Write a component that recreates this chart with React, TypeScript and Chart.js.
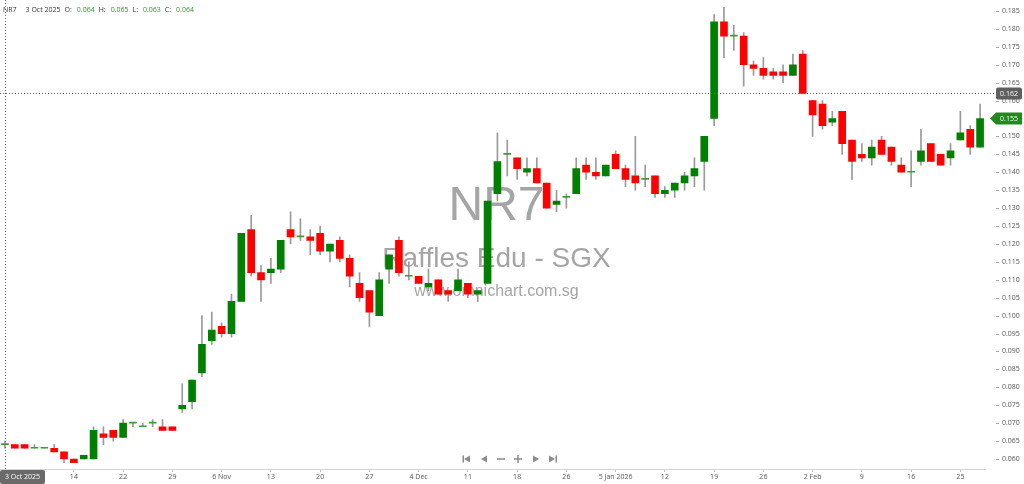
import React, { useEffect, useRef } from 'react';
import { Chart, registerables } from 'chart.js';

Chart.register(...registerables);

// trading days per month (Oct 2025 - Feb 2026)
const octDays = [3, 6, 7, 8, 9, 10, 13, 14, 15, 16, 17, 21, 22, 23, 24, 27, 28, 29, 30, 31];
const novDays = [3, 4, 6, 7, 10, 11, 12, 13, 14, 17, 18, 19, 20, 21, 24, 25, 26, 27, 28];
const decDays = [1, 2, 3, 4, 5, 8, 9, 10, 11, 12, 15, 16, 17, 18, 19, 22, 23, 24, 26, 29, 30, 31];
const janDays = [2, 5, 6, 7, 8, 9, 12, 13, 14, 15, 16, 19, 20, 21, 22, 23, 26, 27, 28, 29, 30];
const febDays = [2, 3, 4, 5, 6, 9, 10, 11, 12, 13, 16, 19, 20, 23, 24, 25, 26, 27];

const dates = [
  ...octDays.map((d) => `${d} Oct 2025`),
  ...novDays.map((d) => `${d} Nov 2025`),
  ...decDays.map((d) => `${d} Dec 2025`),
  ...janDays.map((d) => `${d} Jan 2026`),
  ...febDays.map((d) => `${d} Feb 2026`),
];

const opens = [
  0.064, 0.064, 0.064, 0.063, 0.063, 0.063, 0.062, 0.060, 0.060, 0.060,
  0.067, 0.068, 0.066, 0.070, 0.069, 0.070, 0.069, 0.069, 0.074, 0.076,
  0.084, 0.093, 0.097, 0.095, 0.104, 0.124, 0.112, 0.112, 0.113, 0.124,
  0.122, 0.122, 0.123, 0.118, 0.121, 0.116, 0.109, 0.107, 0.100, 0.113,
  0.121, 0.111, 0.111, 0.108, 0.110, 0.107, 0.107, 0.109, 0.106, 0.109,
  0.134, 0.145, 0.144, 0.140, 0.141, 0.137, 0.131, 0.133, 0.134, 0.142,
  0.140, 0.139, 0.145, 0.141, 0.139, 0.138, 0.139, 0.134, 0.135, 0.137,
  0.139, 0.143, 0.155, 0.182, 0.178, 0.178, 0.170, 0.169, 0.168, 0.168,
  0.167, 0.173, 0.160, 0.159, 0.154, 0.157, 0.149, 0.145, 0.144, 0.149,
  0.147, 0.142, 0.140, 0.143, 0.148, 0.145, 0.144, 0.149, 0.152, 0.147,
];
const highs = [
  0.065, 0.064, 0.064, 0.064, 0.063, 0.064, 0.062, 0.060, 0.061, 0.069,
  0.069, 0.068, 0.071, 0.070, 0.070, 0.071, 0.071, 0.069, 0.081, 0.082,
  0.100, 0.101, 0.098, 0.106, 0.123, 0.128, 0.114, 0.116, 0.121, 0.129,
  0.127, 0.124, 0.125, 0.120, 0.122, 0.117, 0.112, 0.107, 0.112, 0.117,
  0.122, 0.115, 0.111, 0.113, 0.110, 0.107, 0.113, 0.109, 0.107, 0.132,
  0.151, 0.149, 0.144, 0.144, 0.144, 0.137, 0.135, 0.134, 0.144, 0.144,
  0.144, 0.142, 0.146, 0.142, 0.150, 0.142, 0.139, 0.136, 0.137, 0.140,
  0.144, 0.150, 0.184, 0.186, 0.181, 0.179, 0.171, 0.172, 0.169, 0.170,
  0.173, 0.174, 0.160, 0.160, 0.157, 0.157, 0.149, 0.148, 0.149, 0.150,
  0.147, 0.144, 0.146, 0.152, 0.148, 0.145, 0.148, 0.157, 0.153, 0.159,
];
const lows = [
  0.063, 0.063, 0.063, 0.063, 0.063, 0.062, 0.059, 0.059, 0.060, 0.060,
  0.064, 0.065, 0.066, 0.069, 0.069, 0.069, 0.068, 0.068, 0.073, 0.074,
  0.083, 0.092, 0.094, 0.094, 0.104, 0.111, 0.104, 0.109, 0.112, 0.120,
  0.121, 0.117, 0.117, 0.115, 0.115, 0.108, 0.104, 0.097, 0.100, 0.109,
  0.111, 0.110, 0.109, 0.107, 0.106, 0.104, 0.107, 0.105, 0.104, 0.109,
  0.132, 0.139, 0.138, 0.139, 0.137, 0.130, 0.129, 0.130, 0.134, 0.138,
  0.138, 0.139, 0.141, 0.136, 0.135, 0.136, 0.133, 0.133, 0.133, 0.135,
  0.136, 0.135, 0.153, 0.172, 0.174, 0.164, 0.167, 0.166, 0.166, 0.165,
  0.167, 0.162, 0.150, 0.152, 0.153, 0.145, 0.138, 0.143, 0.142, 0.145,
  0.142, 0.140, 0.136, 0.142, 0.143, 0.142, 0.142, 0.149, 0.145, 0.147,
];
const closes = [
  0.064, 0.063, 0.063, 0.063, 0.063, 0.062, 0.060, 0.059, 0.061, 0.068,
  0.066, 0.066, 0.070, 0.070, 0.069, 0.070, 0.068, 0.068, 0.075, 0.082,
  0.092, 0.096, 0.095, 0.104, 0.123, 0.112, 0.110, 0.113, 0.121, 0.122,
  0.122, 0.121, 0.118, 0.120, 0.116, 0.111, 0.105, 0.101, 0.110, 0.117,
  0.112, 0.111, 0.109, 0.109, 0.106, 0.106, 0.110, 0.106, 0.107, 0.132,
  0.143, 0.145, 0.141, 0.141, 0.137, 0.130, 0.132, 0.133, 0.141, 0.140,
  0.139, 0.142, 0.141, 0.138, 0.137, 0.138, 0.134, 0.135, 0.137, 0.139,
  0.141, 0.150, 0.182, 0.178, 0.178, 0.170, 0.169, 0.167, 0.167, 0.167,
  0.170, 0.162, 0.156, 0.153, 0.155, 0.148, 0.143, 0.144, 0.147, 0.145,
  0.143, 0.140, 0.140, 0.146, 0.143, 0.142, 0.146, 0.151, 0.147, 0.155,
];

const xTickDates = [
  '14 Oct 2025', '22 Oct 2025', '29 Oct 2025', '6 Nov 2025', '13 Nov 2025', '20 Nov 2025',
  '27 Nov 2025', '4 Dec 2025', '11 Dec 2025', '18 Dec 2025', '26 Dec 2025', '5 Jan 2026',
  '12 Jan 2026', '19 Jan 2026', '26 Jan 2026', '2 Feb 2026', '9 Feb 2026', '16 Feb 2026',
  '25 Feb 2026',
];
const xTickText = [
  '14', '22', '29', '6 Nov', '13', '20', '27', '4 Dec', '11', '18', '26', '5 Jan 2026',
  '12', '19', '26', '2 Feb', '9', '16', '25',
];
const yTicks = [
  0.06, 0.065, 0.07, 0.075, 0.08, 0.085, 0.09, 0.095, 0.1, 0.105, 0.11, 0.115, 0.12,
  0.125, 0.13, 0.135, 0.14, 0.145, 0.15, 0.155, 0.16, 0.165, 0.17, 0.175, 0.18, 0.185,
];

const symbol = 'NR7';
const stockName = 'Raffles Edu - SGX';
const site = 'www.omnichart.com.sg';
const crossIndex = 0;
const crossPrice = 0.162;

const UP = '#008000';
const DOWN = '#ff0000';
const DOJI = '#3c9c3c';
const FONT = '"Open Sans", "DejaVu Sans", sans-serif';

const candleColor = (i: number) =>
  closes[i] > opens[i] ? UP : closes[i] < opens[i] ? DOWN : DOJI;

const overlay = {
  id: 'overlay',
  beforeDatasetsDraw(chart: any) {
    const { ctx, chartArea } = chart;
    const cx = (chartArea.left + chartArea.right) / 2 + 4;
    ctx.save();
    ctx.fillStyle = '#a5a5a5';
    ctx.textAlign = 'center';
    ctx.textBaseline = 'alphabetic';
    ctx.font = '48px "Liberation Sans", Arial, sans-serif';
    ctx.fillText(symbol, cx, 220);
    ctx.font = '28px "Liberation Sans", Arial, sans-serif';
    ctx.fillText(stockName, cx, 267);
    ctx.font = '16px "Liberation Sans", Arial, sans-serif';
    ctx.fillText(site, cx, 296);
    ctx.restore();
  },
  afterDraw(chart: any) {
    const { ctx, chartArea, scales } = chart;
    const x = scales.x;
    const y = scales.y;
    ctx.save();

    // y tick dashes
    ctx.strokeStyle = '#b0b0b0';
    ctx.lineWidth = 1;
    yTicks.forEach((v) => {
      const py = Math.round(y.getPixelForValue(v)) + 0.5;
      ctx.beginPath();
      ctx.moveTo(chartArea.right + 11, py);
      ctx.lineTo(chartArea.right + 14, py);
      ctx.stroke();
    });

    // crosshair
    const cxp = Math.round(x.getPixelForValue(crossIndex)) + 0.5;
    const cyp = Math.round(y.getPixelForValue(crossPrice)) + 0.5;
    ctx.strokeStyle = '#666';
    ctx.setLineDash([1, 2]);
    ctx.beginPath();
    ctx.moveTo(cxp, 0);
    ctx.lineTo(cxp, chartArea.bottom);
    ctx.moveTo(0, cyp);
    ctx.lineTo(chartArea.right + 12, cyp);
    ctx.stroke();
    ctx.setLineDash([]);

    ctx.font = `7px ${FONT}`;
    ctx.textBaseline = 'middle';
    ctx.textAlign = 'center';

    // crosshair price label
    const bx = chartArea.right + 11;
    ctx.fillStyle = '#5e5e5e';
    ctx.beginPath();
    ctx.roundRect(bx, cyp - 6, 26, 12, 2);
    ctx.fill();
    ctx.fillStyle = '#fff';
    ctx.fillText(crossPrice.toFixed(3), bx + 13, cyp);

    // last price label
    const last = closes[closes.length - 1];
    const lyp = y.getPixelForValue(last);
    ctx.fillStyle = '#1f8a1f';
    ctx.beginPath();
    ctx.moveTo(chartArea.right + 5, lyp);
    ctx.lineTo(chartArea.right + 11, lyp - 6);
    ctx.lineTo(chartArea.right + 37, lyp - 6);
    ctx.lineTo(chartArea.right + 37, lyp + 6);
    ctx.lineTo(chartArea.right + 11, lyp + 6);
    ctx.closePath();
    ctx.fill();
    ctx.fillStyle = '#fff';
    ctx.fillText(last.toFixed(3), chartArea.right + 24, lyp);

    // crosshair date label
    ctx.fillStyle = '#6a6a6a';
    ctx.beginPath();
    ctx.roundRect(0, chartArea.bottom + 1, 45, 14, 2);
    ctx.fill();
    ctx.fillStyle = '#fff';
    ctx.fillText(dates[crossIndex], 22.5, chartArea.bottom + 8);

    // header
    ctx.textAlign = 'left';
    let hx = 3;
    const part = (t: string, c: string, gap: number) => {
      ctx.fillStyle = c;
      ctx.fillText(t, hx, 10);
      hx += ctx.measureText(t).width + gap;
    };
    part(symbol, '#333', 9);
    part(dates[crossIndex], '#333', 4);
    part('O:', '#333', 5);
    part(opens[crossIndex].toFixed(3), '#2c9a2c', 4);
    part('H:', '#333', 5);
    part(highs[crossIndex].toFixed(3), '#2c9a2c', 4);
    part('L:', '#333', 5);
    part(lows[crossIndex].toFixed(3), '#2c9a2c', 4);
    part('C:', '#333', 5);
    part(closes[crossIndex].toFixed(3), '#2c9a2c', 4);

    // navigation buttons
    const ny = 459;
    ctx.fillStyle = '#8c8c8c';
    ctx.strokeStyle = '#8c8c8c';
    ctx.lineWidth = 1.5;
    const tri = (px: number, dir: number) => {
      ctx.beginPath();
      ctx.moveTo(px - 3 * dir, ny);
      ctx.lineTo(px + 3 * dir, ny - 3.5);
      ctx.lineTo(px + 3 * dir, ny + 3.5);
      ctx.closePath();
      ctx.fill();
    };
    tri(467, 1);
    ctx.fillRect(462.5, ny - 3.5, 1.5, 7);
    tri(484, 1);
    ctx.beginPath();
    ctx.moveTo(497, ny);
    ctx.lineTo(505, ny);
    ctx.moveTo(514, ny);
    ctx.lineTo(522, ny);
    ctx.moveTo(518, ny - 4);
    ctx.lineTo(518, ny + 4);
    ctx.stroke();
    tri(536, -1);
    tri(552, -1);
    ctx.fillRect(555.5, ny - 3.5, 1.5, 7);

    ctx.restore();
  },
};

function CandleChart() {
  const canvasRef = useRef<HTMLCanvasElement>(null);

  useEffect(() => {
    const ctx = canvasRef.current!.getContext('2d')!;
    const colors = dates.map((_, i) => candleColor(i));
    const chart = new Chart(ctx, {
      type: 'bar',
      data: {
        labels: dates,
        datasets: [
          {
            label: 'body',
            data: dates.map((_, i) => [opens[i], closes[i]]) as any,
            backgroundColor: colors,
            borderWidth: 0,
            barThickness: 7,
            minBarLength: 1,
            grouped: false,
            order: 1,
          },
          {
            label: 'wick',
            data: dates.map((_, i) => [lows[i], highs[i]]) as any,
            backgroundColor: '#9a9a9a',
            borderWidth: 0,
            barThickness: 1,
            grouped: false,
            order: 2,
          },
        ],
      },
      options: {
        animation: false,
        responsive: true,
        maintainAspectRatio: false,
        events: [],
        layout: { padding: 0 },
        plugins: { legend: { display: false }, tooltip: { enabled: false } },
        scales: {
          x: {
            type: 'category',
            offset: true,
            grid: {
              display: true,
              offset: false,
              drawOnChartArea: false,
              drawTicks: true,
              tickLength: 3,
              color: '#c8c8c8',
            },
            border: { display: true, color: '#d4d4d4' },
            ticks: {
              autoSkip: false,
              maxRotation: 0,
              padding: 1,
              color: '#555',
              font: { size: 7, family: FONT },
              callback: (v: any) => {
                const k = xTickDates.indexOf(dates[v as number]);
                return k >= 0 ? xTickText[k] : '';
              },
            },
            afterBuildTicks: (scale: any) => {
              scale.ticks = xTickDates.map((d) => ({ value: dates.indexOf(d) }));
            },
            afterFit: (scale: any) => {
              scale.height = 15;
            },
          },
          y: {
            position: 'right',
            min: 0.05721,
            max: 0.1869,
            grid: { display: false, tickLength: 17 },
            border: { display: false },
            ticks: {
              padding: 0,
              color: '#555',
              font: { size: 7, family: FONT },
              callback: (v: any) => Number(v).toFixed(3),
            },
            afterBuildTicks: (scale: any) => {
              scale.ticks = yTicks.map((v) => ({ value: v }));
            },
            afterFit: (scale: any) => {
              scale.width = 39;
            },
          },
        },
      },
      plugins: [overlay],
    });

    return () => {
      chart.destroy();
    };
  }, []);

  return (
    <div style={{ position: 'fixed', left: 0, top: 0, width: 1024, height: 484, background: '#fff' }}>
      <canvas ref={canvasRef}></canvas>
    </div>
  );
}

export default function App() {
  return <CandleChart />;
}
